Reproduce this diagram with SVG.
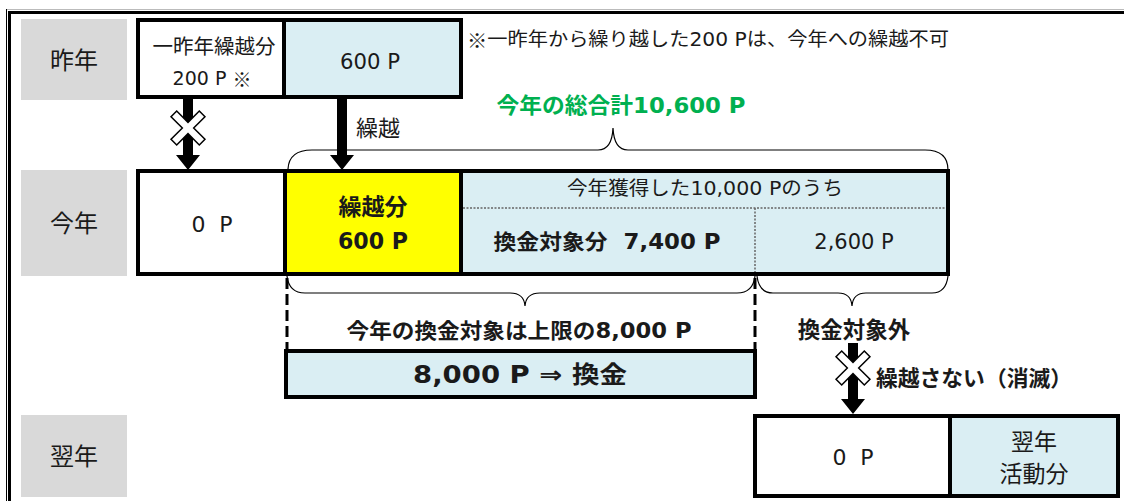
<svg xmlns="http://www.w3.org/2000/svg" width="1124" height="501" viewBox="0 0 1124 501">
<defs>
<style>
text{font-family:"DejaVu Sans","Noto Sans CJK JP",sans-serif;fill:#1a1a1a;text-anchor:middle;dominant-baseline:central}
.cjk{font-family:"Noto Sans CJK JP",sans-serif}
.b{font-weight:bold}
.lbl{fill:#d9d9d9}
.box{stroke:#000;stroke-width:4}
.blue{fill:#daeef3}
.brace{fill:none;stroke:#000;stroke-width:1.2}
.dash{stroke:#000;stroke-width:3;stroke-dasharray:11 5}
.dot{stroke:#666;stroke-width:1.5;stroke-dasharray:2 1.5}
.xm{fill:#fff;stroke:#000;stroke-width:1.5}
</style>
<polygon id="x" points="-4,-20 4,-20 4,-4 20,-4 20,4 4,4 4,20 -4,20 -4,4 -20,4 -20,-4 -4,-4" transform="rotate(45)"/>
</defs>
<rect width="1124" height="501" fill="#fff"/>
<g id="frame">
<line x1="6" y1="9.5" x2="1124" y2="9.5" stroke="#bbb" stroke-width="1"/>
<line x1="6.5" y1="9" x2="6.5" y2="501" stroke="#000" stroke-width="1"/>
<line x1="8" y1="12.5" x2="1124" y2="12.5" stroke="#000" stroke-width="3"/>
<line x1="9.5" y1="11" x2="9.5" y2="501" stroke="#000" stroke-width="3"/>
</g>
<g id="label-sakunen"><rect class="lbl" x="21" y="19" width="106" height="81"/><text x="74" y="61" font-size="24">昨年</text></g>
<g id="label-konen"><rect class="lbl" x="21" y="170" width="106" height="106"/><text x="74" y="224" font-size="24">今年</text></g>
<g id="label-yokunen"><rect class="lbl" x="21" y="415" width="106" height="82"/><text x="74" y="457" font-size="24">翌年</text></g>

<g id="prev-year">
<rect class="box" x="138" y="20" width="323" height="77" fill="#fff"/>
<rect class="box blue" x="284" y="20" width="177" height="77"/>
<text x="214" y="47" font-size="20.5">一昨年繰越分</text>
<text x="212" y="78" font-size="19">200 P <tspan class="cjk">※</tspan></text>
<text x="370" y="62" font-size="21" textLength="60" lengthAdjust="spacingAndGlyphs">600 P</text>
</g>
<text id="note" x="467" y="39" font-size="19" textLength="482" lengthAdjust="spacingAndGlyphs" style="text-anchor:start"><tspan class="cjk">※</tspan>一昨年から繰り越した200 Pは、今年への繰越不可</text>
<text id="total" class="b" x="621" y="105" font-size="22" textLength="249" lengthAdjust="spacingAndGlyphs" style="fill:#00b050">今年の総合計10,600 P</text>

<g id="this-year">
<rect class="box" x="138" y="171" width="810" height="103" fill="#fff"/>
<rect class="box blue" x="461" y="171" width="487" height="103"/>
<rect class="box" x="285" y="171" width="176" height="103" fill="#ffff00"/>
<line class="dot" x1="463" y1="208" x2="946" y2="208"/>
<line class="dot" x1="755" y1="208" x2="755" y2="272"/>
<text x="212" y="224" font-size="22" xml:space="preserve">0  P</text>
<text class="b" x="373" y="207" font-size="23">繰越分</text>
<text class="b" x="373" y="241" font-size="23" textLength="70" lengthAdjust="spacingAndGlyphs">600 P</text>
<text x="705" y="188" font-size="19" textLength="276" lengthAdjust="spacingAndGlyphs">今年獲得した10,000 Pのうち</text>
<text class="b" x="607" y="242" font-size="21" textLength="227" lengthAdjust="spacingAndGlyphs" xml:space="preserve">換金対象分  7,400 P</text>
<text x="854" y="242" font-size="21">2,600 P</text>
</g>

<g id="convert">
<rect class="box blue" x="286" y="351" width="469" height="46"/>
<text class="b" x="520" y="375" font-size="24" textLength="214" lengthAdjust="spacingAndGlyphs">8,000 P ⇒ 換金</text>
</g>
<text id="limit" class="b" x="519" y="331" font-size="21" textLength="345" lengthAdjust="spacingAndGlyphs">今年の換金対象は上限の8,000 P</text>
<text id="excluded" class="b" x="854" y="330" font-size="22.5">換金対象外</text>
<text id="nocarry" class="b" x="876" y="378" font-size="21.5" textLength="196" lengthAdjust="spacingAndGlyphs" style="text-anchor:start">繰越さない（消滅）</text>

<g id="next-year">
<rect class="box" x="755" y="416" width="363" height="80" fill="#fff"/>
<rect class="box blue" x="950" y="416" width="168" height="80"/>
<text x="853" y="457" font-size="22" xml:space="preserve">0  P</text>
<text x="1034" y="442" font-size="23">翌年</text>
<text x="1034" y="474" font-size="23">活動分</text>
</g>

<g id="connectors">
<path d="M183,99 h10 v56 h7 l-12,15 l-12,-15 h7 z" fill="#000"/>
<use href="#x" class="xm" transform="translate(188,128)"/>
<path d="M337,99 h10 v56 h7 l-12,15 l-12,-15 h7 z" fill="#000"/>
<text x="378" y="128" font-size="22">繰越</text>
<path d="M848,343 h10 v56 h7 l-12,15 l-12,-15 h7 z" fill="#000"/>
<use href="#x" class="xm" transform="translate(853,368)"/>
<path class="brace" d="M288,169 Q289,150 312,150 H598 Q612,150 613,128 Q614,150 628,150 H925 Q948,150 948,170"/>
<path class="brace" d="M287,276 Q289,293 305,293 H510 Q524,293 525,306 Q526,293 540,293 H737 Q753,293 755,276"/>
<path class="brace" d="M757,276 Q759,293 773,293 H838 Q851,293 852,306 Q853,293 866,293 H932 Q946,293 948,276"/>
<line class="dash" x1="287" y1="278" x2="287" y2="350"/>
<line class="dash" x1="755" y1="278" x2="755" y2="350"/>
</g>
</svg>
